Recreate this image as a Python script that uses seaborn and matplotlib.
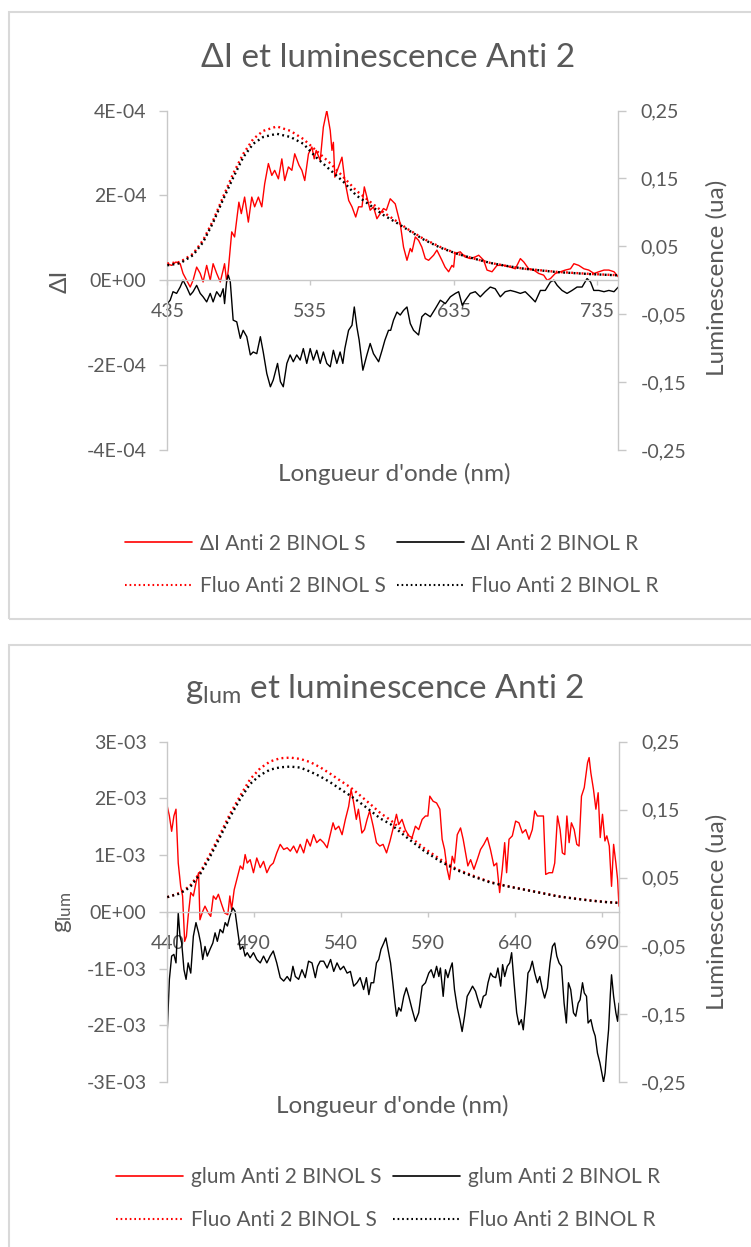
import matplotlib
matplotlib.use("Agg")
import matplotlib.pyplot as plt
import seaborn as sns
from matplotlib.lines import Line2D
from matplotlib.patches import Rectangle
from matplotlib.ticker import FixedLocator, FuncFormatter

# ---------------- Panel 1 : ΔI and luminescence, Anti 2 ----------------
# ΔI, BINOL S (values in units of 1e-4)
wl_di_s = [435, 438, 441, 444, 446, 451, 453, 455.5, 458, 460, 462.5, 465, 467, 469.5, 472, 474, 475, 476.5,
           477.6, 480, 482, 485, 486.7, 489, 491.6, 494, 496, 498.6, 501, 503, 505.6, 508, 510, 512.6, 515, 517,
           519.6, 522, 524, 527, 529, 531, 533.6, 536, 537.6, 539, 541.8, 544, 546.4, 548.8, 550, 551, 552, 554.6,
           557, 559, 561.7, 564, 566.6, 568.6, 571, 572.6, 574.4, 576.7, 579, 581.4, 583.7, 586, 588, 590.7, 594.2,
           597.7, 600, 602.4, 604.7, 605.9, 608.2, 610.5, 612.8, 615.2, 617.5, 621, 623.3, 626.8, 629, 631.5,
           633.8, 635, 636, 639.6, 643, 646.6, 650.1, 652.5, 656, 658.3, 661.8, 665.3, 670, 674.6, 678.1, 681.6,
           684, 687.4, 690.9, 694.4, 697.9, 700.3, 702.6, 706, 709.6, 713, 716.6, 719, 722.4, 726, 729.4, 733,
           736.4, 740, 743.4, 747, 750]
di_s = [0.39, 0.35, 0.43, 0.39, 0.16, -0.16, 0, 0.31, 0.16, -0.04, 0.35, 0, 0.39, 0.16, -0.04, 0.24, 0.39, -0.04,
        0.24, 1.14, 1.02, 1.84, 1.57, 1.96, 1.37, 1.96, 1.73, 1.96, 1.73, 2.27, 2.75, 2.47, 2.59, 2.39, 2.86, 2.35,
        2.67, 2.59, 2.98, 2.71, 2.59, 2.35, 2.98, 3.14, 2.86, 3.06, 2.82, 3.61, 4.0, 3.53, 3.06, 3.25, 2.43, 2.67,
        2.9, 2.35, 1.88, 1.73, 1.49, 1.73, 1.73, 2.2, 1.96, 1.65, 1.73, 1.45, 1.57, 1.69, 1.65, 1.92, 1.8,
        1.33, 0.78, 0.47, 0.75, 0.67, 1.02, 0.94, 0.78, 0.51, 0.47, 0.59, 0.71, 0.47, 0.31, 0.2,
        0.35, 0.31, 0.63, 0.67, 0.55, 0.51, 0.55, 0.59, 0.47, 0.24, 0.2, 0.35, 0.35, 0.31, 0.27, 0.51,
        0.43, 0.27, 0.24, 0.16, 0.12, 0, 0.04, 0.16, 0.2, 0.24, 0.27, 0.39, 0.35, 0.27, 0.24, 0.16,
        0.2, 0.24, 0.24, 0.2, 0.08]

# ΔI, BINOL R (values in units of 1e-4)
wl_di_r = [435, 437, 439, 441.5, 444, 446, 448.5, 451, 453, 455.5, 458, 460, 462.5, 465, 467, 469.5, 472, 474,
           475, 476.5, 477.6, 479, 481, 483.5, 486, 488, 490.5, 493, 495, 497.5, 500, 502, 504.5, 507, 509, 512,
           514, 516, 518.5, 520.8, 523, 525.4, 527.8, 530, 532.4, 534.8, 537, 539.4, 541.8, 544, 546.4, 548.8,
           551, 553.4, 555.7, 557.6, 559, 561.6, 564, 565.6, 567.4, 569, 571.6, 574.4, 576.7, 579, 582.6, 585,
           587, 589.5, 591, 593, 595.4, 597.7, 600, 602.4, 604.7, 607, 610.5, 612.8, 615.2, 618.7, 622.2, 625.7,
           629.2, 632.7, 636.2, 638.5, 641, 643.2, 646.6, 650.1, 653.6, 657, 660.6, 664, 667.6, 671, 674.6, 678,
           681.6, 685, 688.6, 692, 695.6, 699, 702.6, 705, 707.3, 710.7, 714.2, 717.7, 721.2, 724.7, 728.2, 730.6,
           732.9, 736.4, 740, 743.4, 747, 750]
di_r = [-0.55, -0.47, -0.27, -0.31, -0.16, 0, -0.16, -0.35, -0.27, -0.12, -0.31, -0.39, -0.51, -0.31, -0.51,
        -0.27, -0.39, -0.2, -0.55, 0, 0.12, -0.04, -0.94, -0.98, -1.37, -1.18, -1.33, -1.76, -1.69, -1.73, -1.33,
        -1.69, -2.2, -2.51, -2.35, -1.96, -2.39, -2.51, -1.96, -1.76, -1.92, -1.76, -1.88, -1.61, -1.96, -1.61,
        -1.88, -1.65, -1.96, -1.69, -1.96, -2.04, -1.65, -1.96, -1.69, -1.96, -1.61, -1.18, -1.06, -0.63, -1.1,
        -1.41, -2.12, -1.76, -1.49, -1.73, -1.92, -1.65, -1.41, -1.18, -1.18, -0.94, -0.75, -0.82, -0.71, -0.63,
        -1.02, -1.18, -1.29, -0.86, -0.78, -0.86, -0.67, -0.47, -0.55, -0.39, -0.31, -0.27, -0.59, -0.47, -0.31,
        -0.27, -0.39, -0.27, -0.16, -0.2, -0.39, -0.27, -0.24, -0.27, -0.31, -0.27, -0.39, -0.51, -0.24, -0.24,
        -0.04, 0, -0.12, -0.24, -0.31, -0.24, -0.16, -0.16, 0.04, -0.04, -0.24, -0.24, -0.27, -0.24, -0.27, -0.16]

# Luminescence (ua), BINOL S and R
wl_fluo1 = [435, 444, 453, 460, 467, 474, 481, 488, 495, 502, 511.5, 521, 530, 539, 549, 558, 567, 577, 586,
            596.5, 602.4, 614, 625.7, 637.3, 649, 660.6, 672.3, 684, 695.6, 707.3, 719, 730.6, 750]
fluo1_s = [0.0245, 0.027, 0.039, 0.059, 0.088, 0.123, 0.157, 0.186, 0.208, 0.22, 0.2265, 0.22, 0.208, 0.191,
           0.172, 0.152, 0.132, 0.115, 0.100, 0.085, 0.076, 0.061, 0.049, 0.039, 0.032, 0.0255, 0.021, 0.017,
           0.0147, 0.0123, 0.0108, 0.0093, 0.0074]
fluo1_r = [0.022, 0.025, 0.037, 0.056, 0.085, 0.119, 0.151, 0.181, 0.201, 0.211, 0.2157, 0.211, 0.201, 0.181,
           0.162, 0.145, 0.125, 0.110, 0.096, 0.083, 0.075, 0.060, 0.048, 0.039, 0.032, 0.0255, 0.021, 0.017,
           0.0145, 0.012, 0.0105, 0.009, 0.0072]

# ---------------- Panel 2 : g_lum and luminescence, Anti 2 ----------------
# g_lum, BINOL S (values in units of 1e-3)
wl_g_s = [440, 441.2, 442.5, 443.8, 445, 446.3, 447.7, 448.8, 450, 451,
          452, 453.5, 455, 456.5, 458, 458.8, 460.4, 461.7, 463.6, 465,
          466.5, 468, 469.4, 471.3, 473, 474.8, 476, 477, 478.5, 480,
          482, 483.5, 484.8, 486, 487.7, 489.6, 491.5, 493.5, 495.4, 497.3,
          499.2, 501, 503, 505, 507, 509, 510.8, 512.7, 514.6, 516.5,
          518.5, 520.4, 522.3, 524.2, 526, 528, 530, 532, 534, 535.4,
          536.7, 538.7, 540.6, 542.5, 544.4, 545.8, 547.3, 548.8, 550, 552,
          553.5, 555, 556.5, 558.5, 560.4, 562.3, 564.2, 566.2, 568.2, 570.3,
          571.9, 573.2, 575.1, 577, 579, 580.9, 582.8, 584.7, 586.7, 588.6,
          590, 591.1, 593, 595, 596.9, 598.2, 599.6, 601.1, 602.4, 604,
          605.3, 606.9, 608.8, 610.3, 611.7, 613, 614.6, 616.5, 618.4, 620.3,
          622.2, 624.2, 626, 628, 629.6, 631.3, 632.8, 634.2, 635.3, 636.7,
          638.6, 640.5, 642.4, 644.4, 646.3, 648.2, 650.1, 651.5, 653, 655,
          656.5, 657.8, 659.7, 661.7, 663, 664.6, 666.1, 667.4, 668.8, 670,
          671.3, 672.6, 674.2, 675.7, 677, 678.4, 680, 681.9, 682.8, 683.8,
          685.3, 686.7, 688, 689.2, 690.5, 691.9, 693, 694.4, 695.7, 696.9,
          698.2, 699.2, 700]
g_s = [1.86, 1.69, 1.42, 1.69, 1.81, 0.86, 0.45, 0.28, -0.52, -0.43,
       -0.08, 0.34, 0.28, 0.51, 0.69, -0.14, 0.01, 0.1, -0.02, -0.08,
       0.28, 0.22, 0.31, 0.13, -0.02, -0.05, 0.28, 0.04, 0.39, 0.57,
       0.81, 0.75, 1.01, 0.86, 0.92, 0.69, 0.95, 0.78, 0.89, 0.69,
       0.81, 0.86, 1.04, 1.19, 1.1, 1.13, 1.07, 1.16, 1.04, 1.19,
       1.04, 1.28, 1.16, 1.36, 1.22, 1.28, 1.22, 1.13, 1.39, 1.57,
       1.45, 1.51, 1.36, 1.63, 1.86, 2.16, 1.92, 1.63, 1.81, 1.39,
       1.45, 1.63, 1.78, 1.51, 1.22, 1.16, 1.19, 1.04, 1.25, 1.51,
       1.72, 1.54, 1.63, 1.45, 1.34, 1.31, 1.51, 1.45, 1.63, 1.69,
       1.69, 2.04, 1.95, 1.92, 1.81, 1.28, 1.1, 0.75, 0.57, 0.98,
       0.86, 1.36, 1.48, 1.28, 1.04, 0.81, 0.92, 0.75, 0.92, 1.1,
       1.19, 1.31, 1.1, 0.81, 0.86, 0.34, 0.75, 1.22, 0.69, 1.28,
       1.34, 1.6, 1.57, 1.39, 1.45, 1.28, 1.45, 1.78, 1.69, 1.69,
       1.69, 0.66, 0.69, 0.69, 0.86, 1.69, 1.45, 1.04, 1.01, 1.69,
       1.22, 1.57, 1.45, 1.19, 1.16, 2.04, 2.19, 2.63, 2.72, 2.45,
       2.16, 1.81, 2.1, 1.31, 1.72, 1.25, 1.34, 1.16, 0.45, 1.19,
       0.86, 0.57, 0.1]

# g_lum, BINOL R (values in units of 1e-3)
wl_g_r = [440, 441.2, 442.5, 443.8, 445, 446.3, 447.3, 448.3, 449.6, 450.8,
          452, 453.5, 455, 456.5, 458, 459.2, 460.4, 461.7, 463, 464.6,
          466.2, 467.5, 468.8, 470.4, 472, 473.3, 474.6, 476, 477.7, 479,
          480.4, 482, 483.5, 484.8, 486, 487.7, 489.6, 491.5, 493.5, 495.4,
          497.3, 499.2, 501, 503, 505, 507, 509, 510.8, 512.3, 513.7,
          515.6, 517.5, 519.4, 521.3, 523.3, 525.2, 526.5, 528, 530, 532,
          534, 535.8, 537.7, 539.6, 541.5, 543.5, 545.4, 547.3, 549.2, 551,
          553, 554.6, 556, 557.3, 558.8, 560.4, 561.7, 563, 564.6, 565.8,
          567, 568.5, 569.8, 571, 572, 573.2, 574.5, 576.1, 577.6, 579,
          580.9, 582.8, 584.7, 586.7, 588.6, 590.5, 591.9, 593.4, 595, 596.3,
          597.2, 598.8, 600.1, 601.5, 603, 604, 605.3, 606.9, 608.4, 609.7,
          611.1, 612.6, 614.2, 615.7, 617.4, 618.8, 620.3, 621.9, 623.4, 624.6,
          626.1, 627.4, 629, 630.3, 631.9, 633, 634.2, 635.7, 637.1, 638.2,
          639.6, 641.1, 642.4, 643.8, 644.9, 646.3, 647.6, 648.8, 650.1, 651.5,
          653, 654.4, 655.9, 657.2, 658.8, 660.3, 661.7, 663, 664.2, 665.5,
          666.9, 668.4, 669.7, 670.9, 672.2, 673.8, 675.1, 676.5, 677.6, 679,
          680, 681.3, 682.2, 683.8, 685.1, 686.3, 687.6, 689, 690.1, 691.1,
          692, 693, 694, 695, 695.7, 696.9, 698.2, 699.2, 700]
g_r = [-2.08, -1.19, -0.78, -0.75, -0.9, -0.02, -0.43, -0.55, -1.02, -1.19,
       -0.9, -1.08, -0.43, -0.19, -0.37, -0.55, -0.84, -0.61, -0.78, -0.66,
       -0.55, -0.37, -0.52, -0.31, -0.37, -0.19, -0.25, -0.08, 0.07, 0.01,
       -0.31, -0.66, -0.61, -0.78, -0.72, -0.81, -0.72, -0.84, -0.9, -0.78,
       -0.9, -0.78, -0.69, -0.9, -1.16, -1.22, -1.14, -1.22, -0.96, -1.14,
       -1.19, -1.02, -1.16, -0.87, -0.9, -1.16, -0.96, -0.87, -0.87, -0.99,
       -0.84, -1.05, -0.9, -1.02, -0.96, -1.08, -1.05, -1.31, -1.25, -1.16,
       -1.37, -1.16, -1.46, -1.25, -1.25, -0.9, -0.84, -0.66, -0.55, -0.46,
       -0.66, -0.9, -1.25, -1.6, -1.84, -1.69, -1.75, -1.49, -1.34, -1.49,
       -1.72, -1.93, -1.78, -1.31, -1.25, -1.08, -1.02, -1.16, -0.96, -1.14,
       -0.99, -1.49, -1.02, -1.16, -0.99, -0.9, -1.37, -1.69, -1.9, -2.11,
       -1.84, -1.49, -1.4, -1.31, -1.4, -1.55, -1.69, -1.49, -1.46, -1.25,
       -1.08, -1.14, -1.16, -0.99, -1.31, -0.93, -1.14, -0.96, -0.9, -0.72,
       -1.25, -1.78, -1.99, -1.9, -2.08, -1.61, -1.08, -1.02, -0.87, -1.08,
       -1.25, -1.14, -1.37, -1.52, -1.34, -0.9, -0.61, -0.55, -0.78, -0.9,
       -0.96, -1.61, -1.96, -1.25, -1.37, -1.78, -1.84, -1.61, -1.55, -1.25,
       -1.43, -1.49, -1.96, -1.9, -2.08, -2.19, -2.49, -2.66, -2.84, -3.0,
       -2.84, -2.43, -2.08, -1.46, -1.11, -1.49, -1.78, -1.93, -1.61]

# Luminescence (ua), BINOL S and R
wl_fluo2 = [440, 447.3, 453, 458.8, 464.6, 470.4, 476, 482, 487.7, 493.5, 499.2, 505, 510.8, 516.5, 522.3, 528,
            534, 539.6, 545.4, 551.2, 557, 562.7, 568.4, 578, 587.6, 597.2, 606.9, 616.5, 626.1, 635.7, 645.3,
            655, 664.6, 674.2, 683.8, 693.4, 700]
fluo2_s = [0.0216, 0.028, 0.038, 0.0575, 0.0846, 0.114, 0.1435, 0.1706, 0.195, 0.211, 0.221, 0.2257, 0.2266,
           0.2247, 0.22, 0.2124, 0.2026, 0.1927, 0.183, 0.1706, 0.158, 0.145, 0.135, 0.114, 0.094, 0.077, 0.0624,
           0.0526, 0.0437, 0.0379, 0.033, 0.028, 0.023, 0.0197, 0.0167, 0.0143, 0.0133]
fluo2_r = [0.0216, 0.027, 0.036, 0.055, 0.081, 0.110, 0.139, 0.166, 0.188, 0.201, 0.209, 0.2124, 0.2134, 0.212,
           0.206, 0.199, 0.19, 0.1804, 0.1706, 0.16, 0.1485, 0.137, 0.129, 0.109, 0.090, 0.074, 0.061, 0.0515,
           0.043, 0.0375, 0.0327, 0.0278, 0.0228, 0.0195, 0.0165, 0.0141, 0.0131]

# Axis ticks and labels
ticks_x1 = [435, 535, 635, 735]
ticks_y1 = [-4e-4, -2e-4, 0, 2e-4, 4e-4]
ticks_x2 = [440, 490, 540, 590, 640, 690]
ticks_y2 = [-3e-3, -2e-3, -1e-3, 0, 1e-3, 2e-3, 3e-3]
ticks_lum = [-0.25, -0.15, -0.05, 0.05, 0.15, 0.25]

title1 = "ΔI et luminescence Anti 2"
title2 = "g$_\\mathregular{lum}$ et luminescence Anti 2"
xlabel = "Longueur d'onde (nm)"
ylabel_r = "Luminescence (ua)"
legend1 = ["ΔI Anti 2 BINOL S", "ΔI Anti 2 BINOL R", "Fluo Anti 2 BINOL S", "Fluo Anti 2 BINOL R"]
legend2 = ["glum Anti 2 BINOL S", "glum Anti 2 BINOL R", "Fluo Anti 2 BINOL S", "Fluo Anti 2 BINOL R"]

# ---------------- styling ----------------
sns.set_theme(style="ticks")
plt.rcParams["font.family"] = ["Lato", "DejaVu Sans"]
plt.rcParams["mathtext.default"] = "regular"

TXT = "#595959"
AXC = "#C8C8C8"
RED = "#FF0000"
BLK = "#000000"
DOT = (0, (0.8, 1.4))
TICK_FS = 14
LAB_FS = 17.5
LEG_FS = 15
TITLE_FS = 24

W, H = 751, 1247
fig = plt.figure(figsize=(W / 100, H / 100), dpi=100)
fig.patch.set_facecolor("white")


def fx(x):
    return x / W


def fy(y):
    return 1 - y / H


def rect(x0, y0, x1, y1):
    return [fx(x0), fy(y1), (x1 - x0) / W, (y1 - y0) / H]


def sci(v, _pos=None):
    return f"{v:.0E}"


def comma(v, _pos=None):
    return f"{v:.2f}".replace(".", ",")


def panel(box, ax_px, xlim, xticks, ylim, yticks, left_s, left_r, fluo, title, title_xy,
          ylabel, ylabel_xy, xlabel_xy, rlabel_xy, leg_labels, leg_xy):
    # chart frame
    fig.add_artist(Rectangle((fx(box[0]), fy(box[3])), (box[2] - box[0]) / W, (box[3] - box[1]) / H,
                             transform=fig.transFigure, fill=False, edgecolor="#D9D9D9", lw=1.5))

    ax = fig.add_axes(rect(*ax_px))
    ax2 = ax.twinx()

    sns.lineplot(x=left_s[0], y=left_s[1], ax=ax, color=RED, linewidth=1.0, estimator=None, sort=False)
    sns.lineplot(x=left_r[0], y=left_r[1], ax=ax, color=BLK, linewidth=1.0, estimator=None, sort=False)
    sns.lineplot(x=fluo[0], y=fluo[1], ax=ax2, color=RED, linewidth=1.7, linestyle=DOT,
                 estimator=None, sort=False)
    sns.lineplot(x=fluo[0], y=fluo[2], ax=ax2, color=BLK, linewidth=1.7, linestyle=DOT,
                 estimator=None, sort=False)

    ax.set_xlim(*xlim)
    ax.set_ylim(*ylim)
    ax2.set_ylim(-0.25, 0.25)
    ax.xaxis.set_major_locator(FixedLocator(xticks))
    ax.yaxis.set_major_locator(FixedLocator(yticks))
    ax.yaxis.set_major_formatter(FuncFormatter(sci))
    ax2.yaxis.set_major_locator(FixedLocator(ticks_lum))
    ax2.yaxis.set_major_formatter(FuncFormatter(comma))

    for s in ("top", "right"):
        ax.spines[s].set_visible(False)
    for s in ("top", "left", "bottom"):
        ax2.spines[s].set_visible(False)
    ax.spines["bottom"].set_position(("data", 0))
    for sp in (ax.spines["left"], ax.spines["bottom"], ax2.spines["right"]):
        sp.set_color(AXC)
        sp.set_linewidth(1.0)

    ax.tick_params(axis="x", direction="out", length=3.6, width=1, color=AXC, pad=13,
                   labelsize=TICK_FS, labelcolor=TXT)
    ax.tick_params(axis="y", direction="out", length=5.5, width=1, color=AXC, pad=9.5,
                   labelsize=TICK_FS, labelcolor=TXT)
    ax2.tick_params(axis="y", direction="out", length=5.5, width=1, color=AXC, pad=10.5,
                    labelsize=TICK_FS, labelcolor=TXT)

    ax.set_xlabel(xlabel, fontsize=LAB_FS, color=TXT)
    ax.xaxis.set_label_coords(fx(xlabel_xy[0]), fy(xlabel_xy[1]), transform=fig.transFigure)
    ax.xaxis.label.set_va("center")
    ax.set_ylabel(ylabel, fontsize=LAB_FS, color=TXT)
    ax.yaxis.set_label_coords(fx(ylabel_xy[0]), fy(ylabel_xy[1]), transform=fig.transFigure)
    ax.yaxis.label.set_va("center")
    ax2.set_ylabel(ylabel_r, fontsize=LAB_FS, color=TXT, rotation=90)
    ax2.yaxis.set_label_coords(fx(rlabel_xy[0]), fy(rlabel_xy[1]), transform=fig.transFigure)
    ax2.yaxis.label.set_va("center")

    fig.text(fx(title_xy[0]), fy(title_xy[1]), title, ha="center", va="baseline",
             fontsize=TITLE_FS, color=TXT)

    handles = [Line2D([], [], color=RED, lw=1.2), Line2D([], [], color=RED, lw=1.5, linestyle=DOT),
               Line2D([], [], color=BLK, lw=1.2), Line2D([], [], color=BLK, lw=1.5, linestyle=DOT)]
    labels = [leg_labels[0], leg_labels[2], leg_labels[1], leg_labels[3]]
    ax.legend(handles, labels, ncol=2, loc="center", bbox_to_anchor=(fx(leg_xy[0]), fy(leg_xy[1])),
              bbox_transform=fig.transFigure, frameon=False, fontsize=LEG_FS, labelcolor=TXT,
              handlelength=3.2, handletextpad=0.38, columnspacing=0.55, labelspacing=1.1)
    return ax, ax2


panel(box=(9, 12, 760, 619), ax_px=(167.3, 110.5, 618.3, 450), xlim=(435, 750), xticks=ticks_x1,
      ylim=(-4e-4, 4e-4), yticks=ticks_y1,
      left_s=(wl_di_s, [v * 1e-4 for v in di_s]), left_r=(wl_di_r, [v * 1e-4 for v in di_r]),
      fluo=(wl_fluo1, fluo1_s, fluo1_r), title=title1, title_xy=(388, 66.7),
      ylabel="ΔI", ylabel_xy=(60, 281), xlabel_xy=(394, 474), rlabel_xy=(717, 278),
      leg_labels=legend1, leg_xy=(392, 565))

panel(box=(9, 645, 760, 1260), ax_px=(167.3, 741.7, 619, 1082), xlim=(440, 700), xticks=ticks_x2,
      ylim=(-3e-3, 3e-3), yticks=ticks_y2,
      left_s=(wl_g_s, [v * 1e-3 for v in g_s]), left_r=(wl_g_r, [v * 1e-3 for v in g_r]),
      fluo=(wl_fluo2, fluo2_s, fluo2_r), title=title2, title_xy=(385, 698),
      ylabel="g$_\\mathregular{lum}$", ylabel_xy=(64, 912), xlabel_xy=(392, 1106), rlabel_xy=(717, 912),
      leg_labels=legend2, leg_xy=(388, 1198.5))

fig.savefig("out.png", dpi=100)
